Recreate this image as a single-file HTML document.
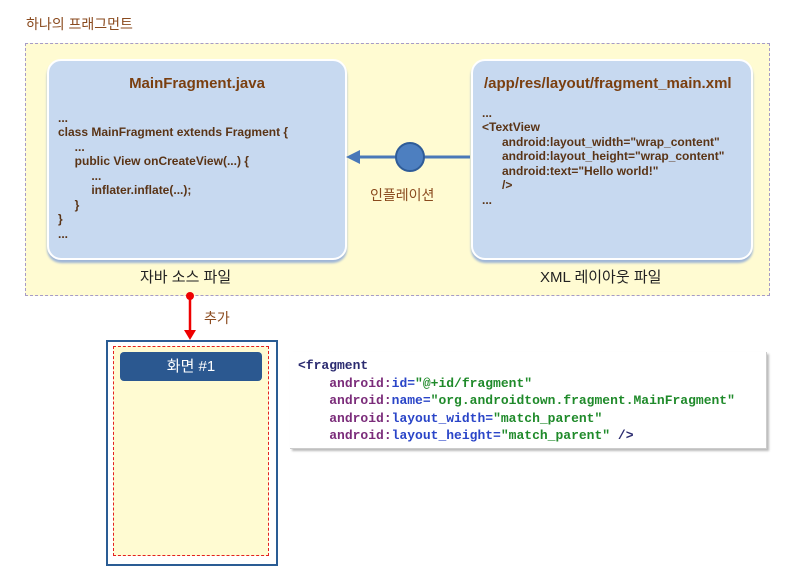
<!DOCTYPE html>
<html><head><meta charset="utf-8"><style>
body{margin:0;width:798px;height:571px;background:#fff;position:relative;overflow:hidden;font-family:"Liberation Sans","Noto Sans CJK KR",sans-serif}
.a{position:absolute}
.card{position:absolute;background:#c7d9f0;border:2px solid #fff;border-radius:14px;box-shadow:0 3px 2px #9fb6d6;color:#5a3416;font-weight:bold;font-size:12px;line-height:14.5px;white-space:nowrap}
.card .t{text-align:center;font-size:15px;color:#7a3f10;margin-top:16px}
pre{margin:0;font-family:"Liberation Mono","DejaVu Sans Mono",monospace;font-size:13px;font-weight:bold;line-height:17.5px}
.p{color:#7b2c7a}.b{color:#2a45c8}.g{color:#1f8a2a}.k{color:#2b2b70}
</style></head><body>
<div class="a" style="left:26px;top:14px;font-size:14px;color:#8a4a1e">하나의 프래그먼트</div>
<div class="a" style="left:25px;top:43px;width:743px;height:251px;background:#fffbd2;border:1.5px dashed #a59bc8"></div>
<div class="card" style="left:47px;top:59px;width:296px;height:197px">
<div class="t">MainFragment.java</div>
<div style="margin:19px 0 0 9px">...<br>class MainFragment extends Fragment {<br>&nbsp;&nbsp;&nbsp;&nbsp;&nbsp;...<br>&nbsp;&nbsp;&nbsp;&nbsp;&nbsp;public View onCreateView(...) {<br>&nbsp;&nbsp;&nbsp;&nbsp;&nbsp;&nbsp;&nbsp;&nbsp;&nbsp;&nbsp;...<br>&nbsp;&nbsp;&nbsp;&nbsp;&nbsp;&nbsp;&nbsp;&nbsp;&nbsp;&nbsp;inflater.inflate(...);<br>&nbsp;&nbsp;&nbsp;&nbsp;&nbsp;}<br>}<br>...</div></div>
<div class="card" style="left:471px;top:59px;width:278px;height:197px">
<div class="t" style="text-align:left;padding-left:11px">/app/res/layout/fragment_main.xml</div>
<div style="margin:14px 0 0 9px">...<br>&lt;TextView<br>&nbsp;&nbsp;&nbsp;&nbsp;&nbsp;&nbsp;android:layout_width="wrap_content"<br>&nbsp;&nbsp;&nbsp;&nbsp;&nbsp;&nbsp;android:layout_height="wrap_content"<br>&nbsp;&nbsp;&nbsp;&nbsp;&nbsp;&nbsp;android:text="Hello world!"<br>&nbsp;&nbsp;&nbsp;&nbsp;&nbsp;&nbsp;/&gt;<br>...</div></div>
<svg class="a" style="left:0;top:0" width="798" height="571">
<line x1="470" y1="157" x2="358" y2="157" stroke="#4a78b8" stroke-width="3"/>
<polygon points="346,157 360,150 360,164" fill="#4a78b8"/>
<circle cx="410" cy="157" r="14" fill="#4d7fc0" stroke="#2f5c98" stroke-width="2"/>
<line x1="190" y1="298" x2="190" y2="332" stroke="#e00" stroke-width="2.5"/>
<circle cx="190" cy="296" r="4" fill="#e00"/>
<polygon points="184,330 196,330 190,340" fill="#e00"/>
</svg>
<div class="a" style="left:370px;top:185px;font-size:14px;color:#8a4a1e">인플레이션</div>
<div class="a" style="left:140px;top:266px;font-size:15px;color:#222">자바 소스 파일</div>
<div class="a" style="left:540px;top:266px;font-size:15px;color:#222">XML 레이아웃 파일</div>
<div class="a" style="left:204px;top:308px;font-size:14px;color:#8a4a1e">추가</div>
<div class="a" style="left:106px;top:340px;width:168px;height:222px;border:2.5px solid #2a5c94;background:#fff"></div>
<div class="a" style="left:113px;top:346px;width:154px;height:208px;border:1.5px dashed #e42020;background:#fffbd2"></div>
<div class="a" style="left:120px;top:352px;width:142px;height:29px;background:#2b5890;border-radius:4px;color:#fff;font-size:15px;text-align:center;line-height:29px">화면 #1</div>
<div class="a" style="left:290px;top:352px;width:476px;height:96px;background:#fff;box-shadow:2px 2px 2px #bbb;border-right:1px solid #ccc;border-bottom:1px solid #ccc"></div>
<pre class="a" style="left:298px;top:357px"><span class="k">&lt;fragment</span>
    <span class="p">android:</span><span class="b">id=</span><span class="g">"@+id/fragment"</span>
    <span class="p">android:</span><span class="b">name=</span><span class="g">"org.androidtown.fragment.MainFragment"</span>
    <span class="p">android:</span><span class="b">layout_width=</span><span class="g">"match_parent"</span>
    <span class="p">android:</span><span class="b">layout_height=</span><span class="g">"match_parent"</span> <span class="k">/&gt;</span></pre>
</body></html>
